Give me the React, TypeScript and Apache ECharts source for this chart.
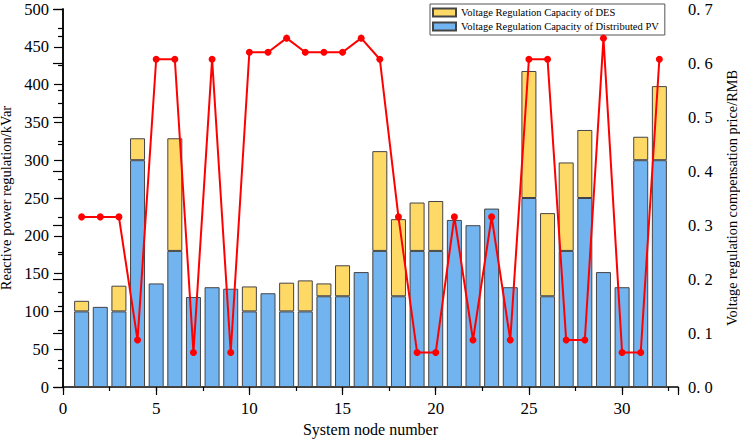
import React, { useEffect, useRef } from "react";
import * as echarts from "echarts";

const nodes = [1,2,3,4,5,6,7,8,9,10,11,12,13,14,15,16,17,18,19,20,21,22,23,24,25,26,27,28,29,30,31,32];
const pvCapacity = [100,106,100,300,137,180,119,132,130,100,124,100,100,120,120,152,180,120,180,180,221,214,236,132,250,120,180,250,152,132,300,300];
const desCapacity = [14,0,34,29,0,149,0,0,0,33,0,38,41,17,41,0,132,102,64,66,0,0,0,0,168,110,117,90,0,0,31,98];
const price = [0.315,0.315,0.315,0.087,0.607,0.607,0.064,0.607,0.064,0.62,0.62,0.646,0.62,0.62,0.62,0.646,0.607,0.315,0.064,0.064,0.315,0.087,0.315,0.087,0.607,0.607,0.087,0.087,0.646,0.064,0.064,0.607];

const FONT = "Liberation Serif";

export default function App() {
  const ref = useRef<HTMLDivElement>(null);
  useEffect(() => {
    if (!ref.current) return;
    const chart = echarts.init(ref.current, undefined, { renderer: "svg" });
    const axisLine = { show: true, lineStyle: { color: "#000", width: 1.5 } };
    chart.setOption({
      animation: false,
      textStyle: { fontFamily: FONT },
      grid: { left: 63, right: 62, top: 9, bottom: 52, containLabel: false, outerBoundsMode: "none" },
      legend: {
        left: 430,
        top: 4,
        orient: "vertical",
        itemGap: 3,
        itemWidth: 23,
        itemHeight: 8,
        padding: [3, 6, 3, 2],
        borderColor: "#555",
        borderWidth: 1,
        textStyle: { fontFamily: FONT, fontSize: 10.5, color: "#000" },
        data: [
          { name: "Voltage Regulation Capacity of DES", icon: "rect" },
          { name: "Voltage Regulation Capacity of Distributed PV", icon: "rect" },
        ],
      },
      xAxis: [
        {
          type: "value",
          min: 0,
          max: 33,
          interval: 2.5,
          name: "System node number",
          nameLocation: "middle",
          nameGap: 34,
          nameTextStyle: { fontFamily: FONT, fontSize: 16, color: "#000" },
          axisLine,
          axisTick: { show: true, inside: false, length: 4, lineStyle: { color: "#000", width: 1.2 } },
          axisLabel: {
            fontFamily: FONT,
            fontSize: 17,
            color: "#000",
            margin: 13,
            formatter: (v: number) => (v % 5 === 0 ? String(v) : ""),
          },
          splitLine: { show: false },
        },
        {
          type: "value",
          position: "bottom",
          min: 0,
          max: 33,
          interval: 5,
          axisLine: { show: false },
          axisTick: { show: true, inside: false, length: 8, lineStyle: { color: "#000", width: 1.2 } },
          axisLabel: { show: false },
          splitLine: { show: false },
        },
      ],
      yAxis: [
        {
          type: "value",
          min: 0,
          max: 500,
          interval: 50,
          name: "Reactive power regulation/kVar",
          nameLocation: "middle",
          nameGap: 37,
          nameTextStyle: { fontFamily: FONT, fontSize: 14.5, color: "#000" },
          axisLine,
          axisTick: { show: true, inside: false, length: 9, lineStyle: { color: "#000", width: 1.2 } },
          minorTick: { show: true, splitNumber: 2, length: 5, lineStyle: { color: "#000", width: 1.2 } },
          axisLabel: { fontFamily: FONT, fontSize: 16.5, color: "#000", margin: 14 },
          splitLine: { show: false },
          minorSplitLine: { show: false },
        },
        {
          type: "value",
          min: 0,
          max: 0.7,
          interval: 0.1,
          position: "right",
          name: "Voltage regulation compensation price/RMB",
          nameLocation: "middle",
          nameGap: 47,
          nameRotate: 90,
          nameTextStyle: { fontFamily: FONT, fontSize: 14.3, color: "#000" },
          axisLine,
          axisTick: { show: true, inside: true, length: 10, lineStyle: { color: "#000", width: 1.2 } },
          minorTick: { show: true, splitNumber: 2, length: 5, lineStyle: { color: "#000", width: 1.2 } },
          axisLabel: {
            fontFamily: FONT,
            fontSize: 16.5,
            color: "#000",
            margin: 10,
            formatter: (v: number) => v.toFixed(1).replace(".", ". "),
          },
          splitLine: { show: false },
          minorSplitLine: { show: false },
        },
      ],
      series: [
        {
          name: "Voltage Regulation Capacity of Distributed PV",
          type: "bar",
          stack: "cap",
          barWidth: 15,
          xAxisIndex: 0,
          yAxisIndex: 0,
          dimensions: ["cap", "node"],
          encode: { x: "node", y: "cap" },
          itemStyle: { color: "#72B4F0", borderColor: "#444", borderWidth: 1 },
          data: nodes.map((n, i) => [pvCapacity[i], n]),
        },
        {
          name: "Voltage Regulation Capacity of DES",
          type: "bar",
          stack: "cap",
          barWidth: 15,
          xAxisIndex: 0,
          yAxisIndex: 0,
          dimensions: ["cap", "node"],
          encode: { x: "node", y: "cap" },
          itemStyle: { color: "#FFD966", borderColor: "#444", borderWidth: 1 },
          data: nodes.map((n, i) => [desCapacity[i] > 0 ? desCapacity[i] : "-", n]),
        },
        {
          name: "price",
          type: "line",
          xAxisIndex: 0,
          yAxisIndex: 1,
          symbol: "circle",
          symbolSize: 7,
          z: 5,
          lineStyle: { color: "#ff0000", width: 2 },
          itemStyle: { color: "#ff0000" },
          data: nodes.map((n, i) => [n, price[i]]),
        },
      ],
    });
    return () => chart.dispose();
  }, []);
  return (
    <div
      ref={ref}
      style={{ position: "fixed", left: 0, top: 0, width: 740, height: 439, background: "#fff" }}
    />
  );
}
